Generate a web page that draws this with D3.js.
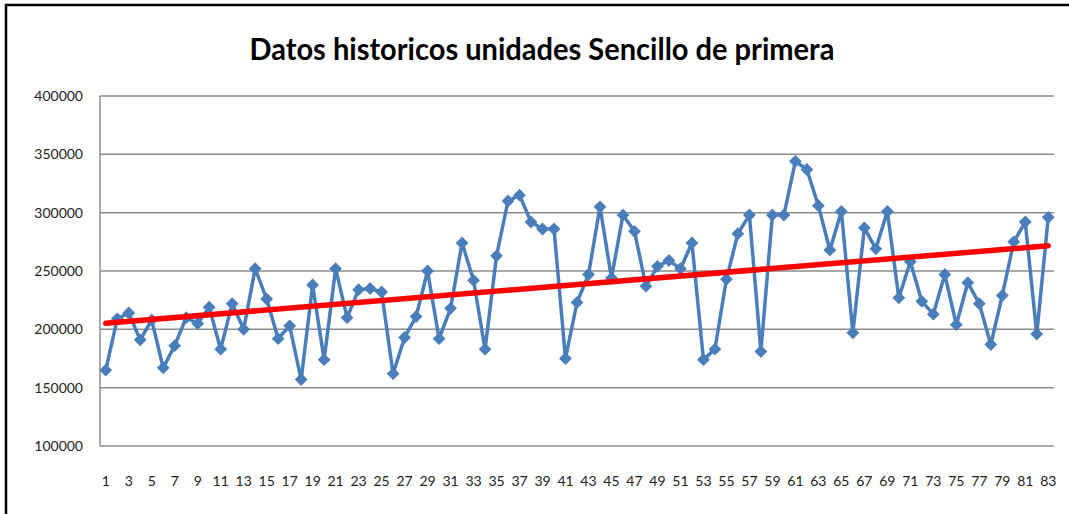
<!DOCTYPE html>
<html>
<head>
<meta charset="utf-8">
<script src="https://cdn.jsdelivr.net/npm/d3@7"></script>
<style>
  body { margin: 0; background: #fff; }
  svg { display: block; font-family: Lato, "Open Sans", sans-serif; }
</style>
</head>
<body>
<div id="chart"></div>
<script>
const width = 1069, height = 514;

const title = 'Datos historicos unidades Sencillo de primera';

// periodos 1..83
const periods = d3.range(1, 84);

const unidades = [
  165000, 209000, 214000, 191000, 208000, 167000, 186000, 210000, 205000, 219000,
  183000, 222000, 200000, 252000, 226000, 192000, 203000, 157000, 238000, 174000,
  252000, 210000, 234000, 235000, 232000, 162000, 193000, 211000, 250000, 192000,
  218000, 274000, 242000, 183000, 263000, 310000, 315000, 292000, 286000, 286000,
  175000, 223000, 247000, 305000, 244000, 298000, 284000, 237000, 254000, 259000,
  252000, 274000, 174000, 183000, 243000, 282000, 298000, 181000, 298000, 298000,
  344000, 337000, 306000, 268000, 301000, 197000, 287000, 269000, 301000, 227000,
  258000, 224000, 213000, 247000, 204000, 240000, 222000, 187000, 229000, 275000,
  292000, 196000, 296000
];

const yTicks = [100000, 150000, 200000, 250000, 300000, 350000, 400000];

const margin = {left: 100, right: 15, top: 96, bottom: 68};

const svg = d3.select('#chart')
  .append('svg')
  .attr('width', width)
  .attr('height', height);

// marco exterior
svg.append('path')
  .attr('d', `M6,${height} L6,5 L${width},5`)
  .attr('fill', 'none')
  .attr('stroke', '#000')
  .attr('stroke-width', 2.5);

const x = d3.scaleBand()
  .domain(periods)
  .range([margin.left, width - margin.right]);

const y = d3.scaleLinear()
  .domain([100000, 400000])
  .range([height - margin.bottom, margin.top]);

const cx = d => x(d) + x.bandwidth() / 2;

// rejilla
svg.append('g')
  .selectAll('line')
  .data(yTicks)
  .enter()
  .append('line')
  .attr('x1', margin.left)
  .attr('x2', width - margin.right)
  .attr('y1', d => y(d))
  .attr('y2', d => y(d))
  .style('stroke', '#8c8c8c')
  .style('stroke-width', 1.5);

svg.append('line')
  .attr('x1', margin.left)
  .attr('x2', margin.left)
  .attr('y1', y(400000))
  .attr('y2', y(100000))
  .style('stroke', '#8c8c8c')
  .style('stroke-width', 1.5);

// etiquetas eje y
const yAxis = d3.axisLeft(y).tickValues(yTicks).tickSize(0).tickPadding(17).tickFormat(d3.format('d'));
svg.append('g')
  .attr('transform', `translate(${margin.left},0)`)
  .call(yAxis)
  .call(g => g.select('.domain').remove())
  .selectAll('text')
  .style('font-family', 'Lato, "Open Sans", sans-serif')
  .style('font-size', '14px')
  .style('fill', '#222');

// etiquetas eje x
const xAxis = d3.axisBottom(x).tickValues(periods.filter(d => d % 2 === 1)).tickSize(0).tickPadding(30);
svg.append('g')
  .attr('transform', `translate(0,${y(100000)})`)
  .call(xAxis)
  .call(g => g.select('.domain').remove())
  .selectAll('text')
  .style('font-family', 'Lato, "Open Sans", sans-serif')
  .style('font-size', '14px')
  .style('fill', '#222');

// serie
const line = d3.line()
  .x((d, i) => cx(periods[i]))
  .y(d => y(d));

svg.append('path')
  .datum(unidades)
  .attr('d', line)
  .attr('fill', 'none')
  .attr('stroke', '#4a7ebb')
  .attr('stroke-width', 3.5)
  .attr('stroke-linejoin', 'round');

svg.append('g')
  .selectAll('path')
  .data(unidades)
  .enter()
  .append('path')
  .attr('d', d3.symbol(d3.symbolSquare, 82))
  .attr('transform', (d, i) => `translate(${cx(periods[i])},${y(d)}) rotate(45)`)
  .attr('fill', '#4a7ebb');

// linea de tendencia (minimos cuadrados)
const mx = d3.mean(periods), my = d3.mean(unidades);
const slope = d3.sum(periods, (p, i) => (p - mx) * (unidades[i] - my)) / d3.sum(periods, p => (p - mx) * (p - mx));
const intercept = my - slope * mx;
const trend = [periods[0], periods[periods.length - 1]];

svg.append('path')
  .datum(trend)
  .attr('d', d3.line().x(p => cx(p)).y(p => y(intercept + slope * p)))
  .attr('stroke', '#ff0000')
  .attr('stroke-width', 5.5)
  .attr('stroke-linecap', 'round');

// titulo
svg.append('text')
  .attr('x', 542)
  .attr('y', 60)
  .attr('text-anchor', 'middle')
  .attr('textLength', 585)
  .attr('lengthAdjust', 'spacingAndGlyphs')
  .style('font-family', 'Lato, "Open Sans", sans-serif')
  .style('font-weight', 'bold')
  .style('font-size', '31px')
  .style('fill', '#000')
  .text(title);
</script>
</body>
</html>
